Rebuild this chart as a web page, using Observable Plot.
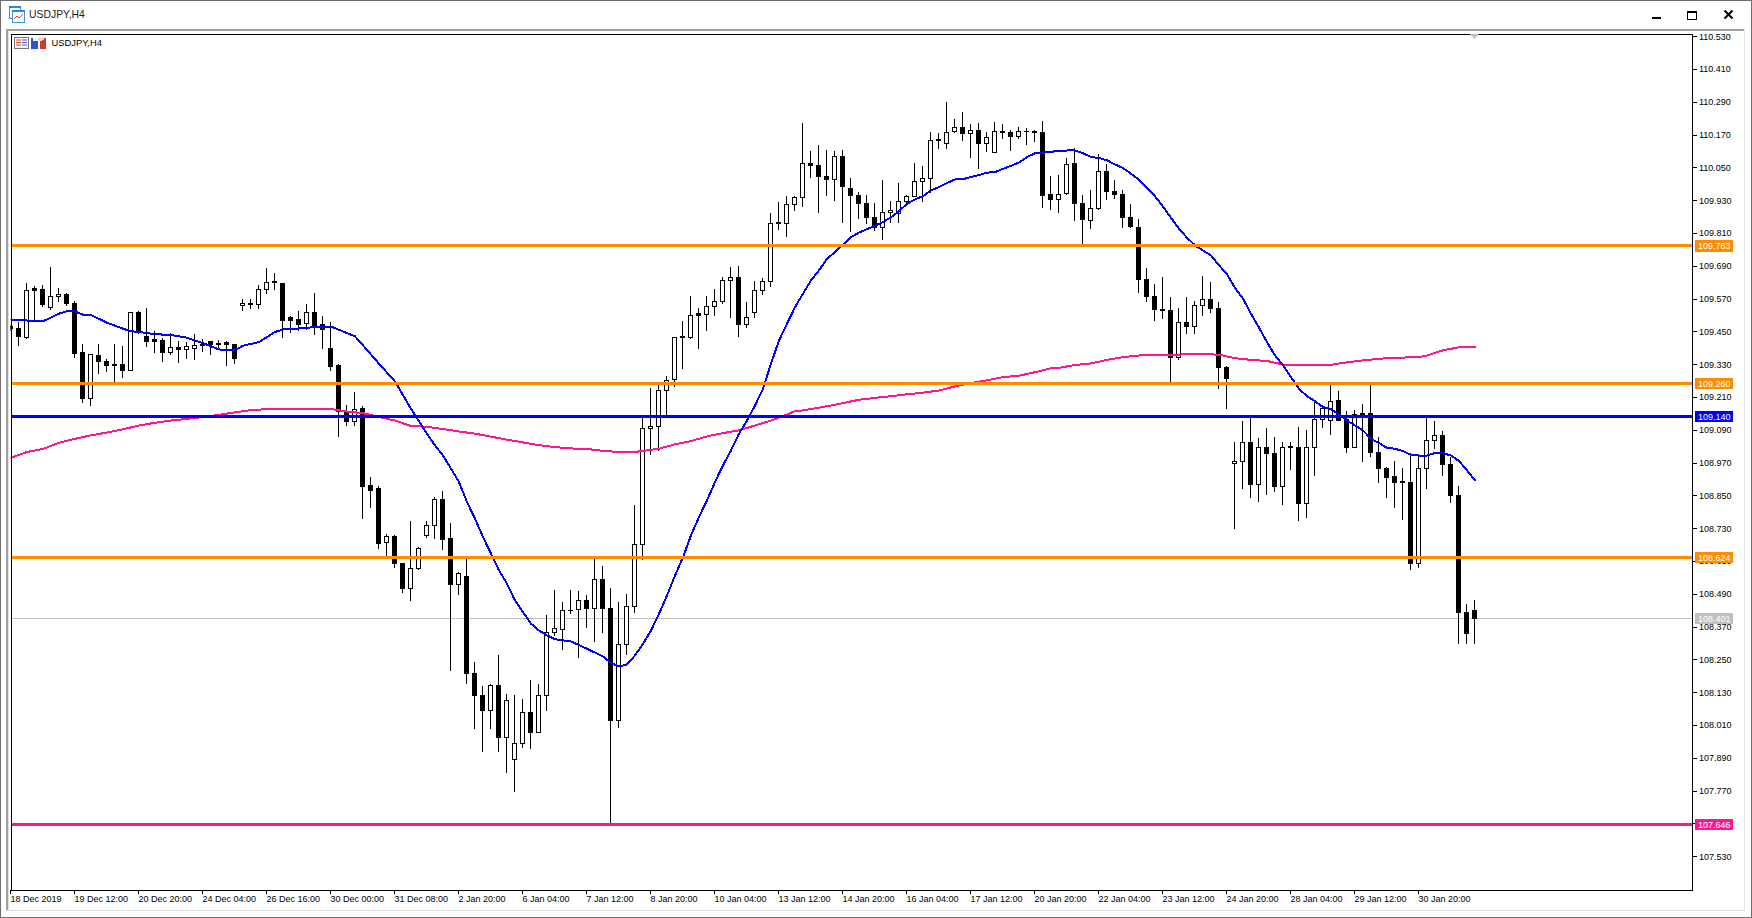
<!DOCTYPE html>
<html>
<head>
<meta charset="utf-8">
<title>USDJPY,H4</title>
<script src="https://cdn.jsdelivr.net/npm/d3@7"></script>
<script src="https://cdn.jsdelivr.net/npm/@observablehq/plot@0.6"></script>
<style>
html,body{margin:0;padding:0;background:#fff;overflow:hidden}
#win{position:relative;width:1752px;height:918px;overflow:hidden;background:#fff;font-family:"Liberation Sans",Arial,sans-serif;color:#000}
#win>svg.plot,#chart svg{position:absolute;left:0;top:0;display:block}
.abs{position:absolute}
</style>
</head>
<body>
<div id="win">
  <div id="chart"></div>
  <div class="abs" style="left:0;top:0;width:1750px;height:916px;border:1px solid #6e6e6e"></div>
  <div class="abs" style="left:6px;top:29px;width:1739px;height:2px;background:#a0a0a0"></div>
  <div class="abs" style="left:6px;top:29px;width:2px;height:882px;background:#a0a0a0"></div>
  <div class="abs" style="left:8px;top:31px;width:1px;height:880px;background:#e3e3e3"></div>
  <div class="abs" style="left:1744px;top:29px;width:1px;height:882px;background:#e3e3e3"></div>
  <div class="abs" style="left:6px;top:910px;width:1739px;height:1px;background:#e3e3e3"></div>
  <svg class="abs" style="left:9px;top:5px" width="17" height="18" viewBox="0 0 17 18">
    <rect x="0.5" y="1.5" width="11" height="12" fill="#fff" stroke="#3b8fd9"/>
    <rect x="0" y="1" width="12" height="2" fill="#2f86d8"/>
    <rect x="3.5" y="5.5" width="12" height="12" fill="#fff" stroke="#2f9bea"/>
    <rect x="3" y="5" width="13" height="2" fill="#2f86d8"/>
    <polyline points="5,14 8,11 10,13 14,9" fill="none" stroke="#e0402a"/>
  </svg>
  <div class="abs" style="left:29px;top:8px;font-size:10.4px;line-height:13px;color:#222">USDJPY,H4</div>
  <svg class="abs" style="left:1650px;top:8px" width="90" height="14" viewBox="0 0 90 14">
    <rect x="2" y="9" width="9" height="2" fill="#000"/>
    <rect x="37.5" y="3.5" width="9" height="8" fill="none" stroke="#000"/>
    <rect x="37" y="3" width="10" height="2" fill="#000"/>
    <path d="M74.5 2.5 L82.5 10.5 M82.5 2.5 L74.5 10.5" stroke="#000" stroke-width="2" fill="none"/>
  </svg>
  <svg class="abs" style="left:14px;top:37px" width="33" height="13" viewBox="0 0 33 13">
    <rect x="0.5" y="0.5" width="14" height="11" fill="#f4f4fb" stroke="#777"/>
    <path d="M2 3h5M2 5.5h5M2 8h5" stroke="#e04a3a"/>
    <path d="M8 3h5M8 5.5h5M8 8h5" stroke="#4a63c8"/>
    <path d="M17 1h2v3h5v8h-7z" fill="#2f50d8"/>
    <path d="M26 4h2V1h4v11h-6z" fill="#d23a2c"/>
    <path d="M25 1h5v2h-5z" fill="#fff" stroke="#888" stroke-width="0.5"/>
  </svg>
  <div class="abs" style="left:51.5px;top:37px;font-size:9.4px;line-height:12px">USDJPY,H4</div>
  <svg class="abs" style="left:1470px;top:34px" width="9" height="6" viewBox="0 0 9 6">
    <polygon points="0,0 9,0 4.5,5" fill="#c0c0c0"/>
  </svg>
</div>
<script>
const highs = [
109.474,109.486,109.626,109.617,109.620,109.687,109.608,109.590,109.561,109.404,
109.367,109.404,109.348,109.404,109.397,109.520,109.524,109.536,109.451,109.425,
109.446,109.415,109.412,109.441,109.423,109.415,109.420,109.415,109.404,109.569,
109.568,109.619,109.683,109.664,109.624,109.506,109.525,109.551,109.590,109.507,
109.484,109.331,109.181,109.229,109.178,108.918,108.884,108.709,108.705,108.603,
108.758,108.661,108.757,108.844,108.867,108.750,108.569,108.624,108.241,108.152,
108.159,108.267,108.124,108.120,108.105,108.175,108.161,108.413,108.505,108.459,
108.505,108.501,108.486,108.620,108.592,108.511,108.461,108.490,108.816,109.135,
109.245,109.255,109.287,109.431,109.489,109.580,109.536,109.580,109.606,109.650,
109.686,109.689,109.557,109.635,109.646,109.882,109.923,109.945,109.945,110.213,
110.111,110.132,110.114,110.111,110.114,110.012,109.959,109.948,109.919,110.005,
109.926,109.992,109.948,110.065,110.054,110.180,110.175,110.289,110.228,110.252,
110.208,110.212,110.179,110.215,110.208,110.186,110.197,110.193,110.186,110.219,
110.018,110.022,110.084,110.120,109.950,109.967,110.098,110.062,110.003,109.967,
109.915,109.861,109.681,109.623,109.648,109.575,109.535,109.575,109.561,109.653,
109.630,109.557,109.325,109.045,109.122,109.136,109.059,109.096,109.063,109.045,
109.044,109.100,109.089,109.196,109.181,109.255,109.233,109.159,109.163,109.185,
109.255,109.063,108.953,108.976,108.951,109.007,108.995,109.136,109.123,109.086,
108.989,108.884,108.453,108.468];
const lows = [
109.453,109.397,109.423,109.492,109.541,109.529,109.559,109.545,109.354,109.190,
109.179,109.295,109.300,109.265,109.280,109.307,109.439,109.393,109.372,109.339,
109.364,109.335,109.350,109.346,109.375,109.364,109.383,109.324,109.331,109.525,
109.533,109.533,109.587,109.603,109.426,109.445,109.452,109.456,109.437,109.386,
109.306,109.064,109.105,109.105,108.764,108.805,108.655,108.624,108.585,108.494,
108.465,108.579,108.696,108.692,108.652,108.209,108.487,108.161,107.997,107.913,
107.994,107.913,107.836,107.767,107.928,107.923,107.980,108.062,108.337,108.286,
108.417,108.256,108.365,108.314,108.347,107.646,108.001,108.267,108.420,108.614,
108.998,109.011,109.142,109.248,109.314,109.424,109.387,109.450,109.505,109.552,
109.501,109.431,109.464,109.500,109.585,109.614,109.822,109.797,109.889,109.907,
110.013,109.885,109.947,109.929,109.848,109.815,109.863,109.845,109.819,109.786,
109.848,109.848,109.909,109.941,109.925,109.956,110.119,110.119,110.175,110.148,
110.086,110.046,110.108,110.102,110.153,110.112,110.156,110.134,110.142,109.903,
109.896,109.885,109.951,109.856,109.770,109.826,109.896,109.932,109.936,109.830,
109.830,109.592,109.559,109.490,109.497,109.267,109.347,109.440,109.442,109.505,
109.518,109.241,109.168,108.729,108.872,108.842,108.828,108.850,108.861,108.817,
108.944,108.755,108.769,108.923,109.098,109.072,109.124,109.005,109.022,108.974,
108.992,108.897,108.842,108.806,108.762,108.579,108.586,108.875,109.020,108.922,
108.824,108.308,108.305,108.308];
const opens = [
109.467,109.462,109.428,109.606,109.604,109.537,109.579,109.586,109.554,109.372,
109.204,109.361,109.341,109.331,109.331,109.307,109.520,109.430,109.419,109.418,
109.373,109.392,109.384,109.387,109.398,109.412,109.407,109.408,109.404,109.546,
109.553,109.548,109.603,109.634,109.624,109.502,109.495,109.479,109.520,109.476,
109.386,109.324,109.157,109.120,109.170,108.885,108.874,108.678,108.701,108.603,
108.509,108.583,108.703,108.740,108.836,108.691,108.524,108.555,108.200,108.119,
108.064,108.156,107.966,107.885,107.944,108.057,107.984,108.118,108.348,108.361,
108.428,108.434,108.467,108.437,108.544,108.437,108.026,108.306,108.444,108.672,
109.095,109.103,109.235,109.275,109.428,109.429,109.514,109.513,109.542,109.559,
109.637,109.648,109.475,109.520,109.600,109.634,109.850,109.845,109.915,109.941,
110.065,110.058,110.018,110.007,110.091,109.974,109.948,109.919,109.868,109.831,
109.886,109.882,109.926,109.943,110.000,110.011,110.153,110.139,110.183,110.197,
110.174,110.186,110.139,110.106,110.183,110.179,110.164,110.180,110.183,110.179,
109.950,109.934,109.955,110.063,109.919,109.857,109.900,110.036,109.963,109.952,
109.868,109.831,109.641,109.579,109.531,109.528,109.354,109.484,109.469,109.546,
109.568,109.535,109.319,108.968,108.975,109.045,108.891,109.026,109.005,108.884,
109.025,109.026,108.822,109.026,109.129,109.126,109.196,109.129,109.025,109.151,
109.151,109.009,108.947,108.918,108.900,108.898,108.601,108.948,109.051,109.070,
108.964,108.851,108.423,108.431];
const closes = [
109.461,109.431,109.601,109.600,109.548,109.579,109.586,109.552,109.369,109.204,
109.367,109.339,109.324,109.325,109.306,109.520,109.450,109.415,109.415,109.372,
109.392,109.384,109.396,109.400,109.404,109.404,109.404,109.401,109.353,109.553,
109.548,109.604,109.630,109.629,109.489,109.492,109.476,109.520,109.473,109.457,
109.322,109.157,109.120,109.165,108.883,108.870,108.676,108.701,108.600,108.509,
108.584,108.657,108.741,108.836,108.689,108.524,108.565,108.198,108.118,108.063,
108.156,107.964,108.101,107.942,108.057,107.983,108.118,108.348,108.363,108.430,
108.431,108.467,108.436,108.544,108.437,108.026,108.306,108.444,108.672,109.096,
109.102,109.235,109.272,109.429,109.430,109.509,109.508,109.542,109.559,109.637,
109.648,109.475,109.501,109.601,109.634,109.846,109.845,109.915,109.941,110.065,
110.057,110.017,110.006,110.091,109.980,109.947,109.918,109.867,109.831,109.886,
109.893,109.926,109.945,110.000,110.011,110.150,110.148,110.179,110.197,110.174,
110.186,110.137,110.161,110.183,110.178,110.164,110.183,110.183,110.178,109.947,
109.932,109.951,110.061,109.918,109.859,109.901,110.036,109.962,109.951,109.867,
109.834,109.640,109.578,109.530,109.526,109.354,109.484,109.468,109.546,109.568,
109.534,109.318,109.278,108.975,109.045,108.890,109.026,109.003,108.883,109.026,
109.028,108.820,109.026,109.129,109.169,109.195,109.126,109.025,109.147,109.136,
109.007,108.948,108.915,108.897,108.896,108.601,108.950,109.052,109.070,108.963,
108.850,108.422,108.345,108.401];

const blueBars = [0,2,4,6,7,8,9,10,12,14,15,16,18,20,22,24,26,28,29,31,33,34,36,38,40,41,43,44,46,48,50,52,53,54,
55,56,57,58,59,60,61,62,63,64,65,66,67,68,70,72,74,75,76,77,78,79,80,81,82,83,84,85,86,87,88,89,90,91,92,93,94,95,96,97,98,
99,100,101,102,103,104,105,106,107,108,109,110,111,112,113,114,115,116,117,118,119,120,121,122,123,124,125,126,127,128,129,130,131,132,
133,134,135,136,137,138,139,140,141,142,143,144,145,146,147,148,149,150,151,152,153,154,155,156,157,158,159,160,161,162,163,164,165,166,167,168,169,170,171,172,173,174,175,176,177,178,179,180,181,182,183];
const blueValues = [109.496,109.492,109.489,109.517,109.526,109.525,109.513,109.512,109.484,109.462,109.453,109.450,109.442,109.439,109.429,109.409,109.386,109.383,109.400,109.413,109.450,109.459,109.463,109.468,109.470,109.458,109.434,109.401,109.334,109.269,109.169,109.078,109.035,108.998,
108.950,108.901,108.828,108.767,108.700,108.639,108.578,108.529,108.468,108.425,108.383,108.358,108.340,108.326,108.318,108.291,108.263,108.239,108.226,108.234,108.267,108.309,108.358,108.419,108.486,108.559,108.626,108.706,108.773,108.834,108.901,108.962,109.017,109.078,109.126,109.181,109.242,109.334,109.419,109.480,109.541,
109.590,109.639,109.675,109.718,109.742,109.770,109.797,109.814,109.826,109.839,109.852,109.870,109.892,109.919,109.935,109.947,109.968,109.980,109.995,110.008,110.009,110.017,110.024,110.033,110.035,110.047,110.058,110.070,110.090,110.104,110.106,110.109,110.113,110.114,
110.114,110.104,110.090,110.087,110.078,110.063,110.050,110.029,110.007,109.978,109.946,109.909,109.868,109.828,109.795,109.767,109.748,109.730,109.694,109.661,109.611,109.572,109.517,109.466,109.413,109.364,109.328,109.285,109.242,109.215,109.197,109.175,109.168,109.148,109.126,109.108,109.090,109.059,109.044,109.026,109.023,109.014,109.001,108.998,108.998,109.007,109.007,108.998,108.978,108.944,108.907];

const pinkBars = [0,2,4,6,8,10,12,14,16,18,20,22,24,26,28,30,32,34,36,38,40,42,44,46,48,50,52,54,56,58,60,62,64,66,68,70,72,74,76,78,79,81,83,85,87,89,91,93,95,97,98,99,101,103,105,106,108,110,112,114,116,118,120,122,124,126,128,130,131,133,135,137,139,141,143,145,147,149,151,153,155,157,159,161,163,165,167,169,171,173,175,176,177,179,181,183];
const pinkValues = [108.990,109.011,109.022,109.045,109.059,109.072,109.082,109.094,109.108,109.118,109.126,109.132,109.139,109.147,109.156,109.164,109.168,109.170,109.170,109.170,109.168,109.159,109.153,109.139,109.126,109.106,109.103,109.095,109.086,109.078,109.067,109.056,109.046,109.036,109.029,109.024,109.022,109.015,109.011,109.011,109.015,109.023,109.039,109.051,109.068,109.080,109.090,109.108,109.126,109.148,109.161,109.163,109.173,109.184,109.196,109.202,109.209,109.215,109.222,109.228,109.236,109.251,109.263,109.273,109.285,109.290,109.303,109.317,109.319,109.329,109.335,109.348,109.358,109.364,109.365,109.367,109.368,109.369,109.367,109.354,109.348,109.344,109.331,109.328,109.328,109.330,109.339,109.346,109.352,109.356,109.357,109.358,109.364,109.383,109.394,109.394];

const levelPrices = [109.763,109.260,108.624,109.140,107.646];
const levelColors = ["#ff8c00","#ff8c00","#ff8c00","#0000ff","#ff1493"];
const bidPrice = [108.401];
const bidColor = "#c0c0c0";

const yTicks = [110.53,110.41,110.29,110.17,110.05,109.93,109.81,109.69,109.57,109.45,109.33,109.21,109.09,108.97,108.85,108.73,108.61,108.49,108.37,108.25,108.13,108.01,107.89,107.77,107.65,107.53];
const xTickLabels = ["18 Dec 2019","19 Dec 12:00","20 Dec 20:00","24 Dec 04:00","26 Dec 16:00","30 Dec 00:00","31 Dec 08:00","2 Jan 20:00","6 Jan 04:00","7 Jan 12:00","8 Jan 20:00","10 Jan 04:00","13 Jan 12:00","14 Jan 20:00","16 Jan 04:00","17 Jan 12:00","20 Jan 20:00","22 Jan 04:00","23 Jan 12:00","24 Jan 20:00","28 Jan 04:00","29 Jan 12:00","30 Jan 20:00"];
const xTickBars = xTickLabels.map((_, k) => k * 8);

const candles = opens.map((o, i) => ({i, open: o, high: highs[i], low: lows[i], close: closes[i]}));
const up = candles.filter(d => d.close >= d.open);
const down = candles.filter(d => d.close < d.open);
const blue = blueBars.map((b, k) => ({i: b, v: blueValues[k]}));
const pink = pinkBars.map((b, k) => ({i: b, v: pinkValues[k]}));
const levels = levelPrices.map((p, k) => ({p, c: levelColors[k]}));
const tags = levels.concat(bidPrice.map(p => ({p, c: bidColor})));

const tagX1 = 210.5, tagX2 = 215.35, tagXm = 212.9, tagH = 0.0205, half = 0.25;
const crisp = {shapeRendering: "crispEdges"};

const plot = Plot.plot({
  width: 1752,
  height: 918,
  marginLeft: 10.5,
  marginRight: 60.5,
  marginTop: 33.5,
  marginBottom: 28.5,
  style: {background: "transparent", fontFamily: '"Liberation Sans",Arial,sans-serif', fontSize: "9px", color: "#000"},
  x: {type: "linear", domain: [0, 210.125], range: [10.5, 1691.5], axis: null},
  y: {type: "linear", domain: [107.4085, 110.5402], range: [889.5, 33.5], axis: null},
  marks: [
    Plot.ruleY(bidPrice, {stroke: bidColor, strokeWidth: 1, dy: -0.5, ...crisp}),
    Plot.ruleX(candles, {x: "i", y1: "low", y2: "high", stroke: "#000", strokeWidth: 1, dx: -0.5, clip: true, ...crisp}),
    Plot.rect(up, {x1: d => d.i - half, x2: d => d.i + half, y1: "open", y2: "close", fill: "#fff", stroke: "#000", strokeWidth: 1, clip: true, ...crisp}),
    Plot.rect(down, {x1: d => d.i - half, x2: d => d.i + half, y1: "open", y2: "close", fill: "#000", stroke: "#000", strokeWidth: 1, clip: true, ...crisp}),
    Plot.line(pink, {x: "i", y: "v", stroke: "#ff1493", strokeWidth: 2, clip: true, ...crisp}),
    Plot.line(blue, {x: "i", y: "v", stroke: "#0000ff", strokeWidth: 2, clip: true, ...crisp}),
    Plot.ruleY(levels, {y: "p", stroke: "c", strokeWidth: 3, dy: -0.5, ...crisp}),
    Plot.frame({stroke: "#000", strokeWidth: 1, ...crisp}),
    Plot.axisY({anchor: "right", ticks: yTicks, tickSize: 4, tickPadding: 3, label: null, tickFormat: d => d.toFixed(3), stroke: "#000", fill: "#000", ...crisp}),
    Plot.axisX({anchor: "bottom", ticks: xTickBars, tickSize: 4, tickPadding: 2, label: null, textAnchor: "start", tickFormat: d => xTickLabels[d / 8], stroke: "#000", fill: "#000", dx: -0.5, ...crisp}),
    Plot.rect(tags, {x1: () => tagX1, x2: () => tagX2, y1: d => d.p - tagH, y2: d => d.p + tagH, fill: "c", ...crisp}),
    Plot.text(tags, {x: () => tagXm, y: "p", text: d => d.p.toFixed(3), fill: "#fff", fontSize: 9})
  ]
});
plot.style.position = "absolute";
plot.style.left = "0";
plot.style.top = "0";
document.getElementById("chart").appendChild(plot);
</script>
</body>
</html>
